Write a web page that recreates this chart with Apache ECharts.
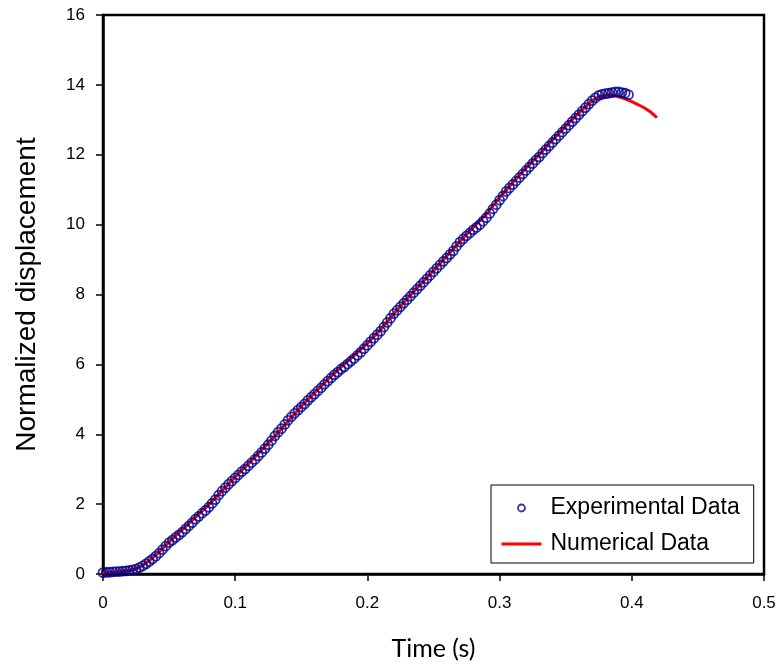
<!DOCTYPE html>
<html>
<head>
<meta charset="utf-8">
<script src="https://cdn.jsdelivr.net/npm/echarts@6/dist/echarts.min.js"></script>
<style>html,body{margin:0;padding:0;background:#fff}#c{width:780px;height:666px}</style>
</head>
<body>
<div id="c"></div>
<script>
// Experimental data [time (s), normalized displacement]
const expData = [
[0,0.04],[0.0025,0.05],[0.005,0.05],[0.0075,0.06],[0.01,0.07],[0.0125,0.07],[0.015,0.08],[0.0175,0.09],
[0.02,0.1],[0.0225,0.12],[0.025,0.14],[0.0275,0.18],[0.03,0.23],[0.0325,0.29],[0.035,0.36],[0.0375,0.43],
[0.04,0.51],[0.0425,0.6],[0.045,0.7],[0.0475,0.8],[0.05,0.9],[0.0525,0.97],[0.055,1.05],[0.0575,1.12],
[0.06,1.2],[0.0625,1.29],[0.065,1.38],[0.0675,1.47],[0.07,1.57],[0.0725,1.65],[0.075,1.74],[0.0775,1.82],
[0.08,1.91],[0.0825,2.02],[0.085,2.13],[0.0875,2.26],[0.09,2.37],[0.0925,2.47],[0.095,2.57],[0.0975,2.66],
[0.1,2.75],[0.1025,2.84],[0.105,2.93],[0.1075,3.01],[0.11,3.1],[0.1125,3.19],[0.115,3.28],[0.1175,3.38],
[0.12,3.48],[0.1225,3.59],[0.125,3.7],[0.1275,3.82],[0.13,3.95],[0.1325,4.06],[0.135,4.16],[0.1375,4.28],
[0.14,4.4],[0.1425,4.5],[0.145,4.6],[0.1475,4.69],[0.15,4.78],[0.1525,4.87],[0.155,4.97],[0.1575,5.06],
[0.16,5.15],[0.1625,5.24],[0.165,5.33],[0.1675,5.43],[0.17,5.52],[0.1725,5.61],[0.175,5.7],[0.1775,5.78],
[0.18,5.86],[0.1825,5.93],[0.185,6.01],[0.1875,6.09],[0.19,6.17],[0.1925,6.26],[0.195,6.35],[0.1975,6.45],
[0.2,6.55],[0.2025,6.65],[0.205,6.75],[0.2075,6.85],[0.21,6.95],[0.2125,7.07],[0.215,7.2],[0.2175,7.32],
[0.22,7.45],[0.2225,7.55],[0.225,7.65],[0.2275,7.75],[0.23,7.85],[0.2325,7.95],[0.235,8.05],[0.2375,8.15],
[0.24,8.25],[0.2425,8.35],[0.245,8.45],[0.2475,8.55],[0.25,8.65],[0.2525,8.75],[0.255,8.85],[0.2575,8.95],
[0.26,9.05],[0.2625,9.15],[0.265,9.25],[0.2675,9.38],[0.27,9.5],[0.2725,9.59],[0.275,9.68],[0.2775,9.76],
[0.28,9.85],[0.2825,9.92],[0.285,10.0],[0.2875,10.1],[0.29,10.2],[0.2925,10.32],[0.295,10.45],[0.2975,10.57],
[0.3,10.7],[0.3025,10.82],[0.305,10.95],[0.3075,11.05],[0.31,11.15],[0.3125,11.25],[0.315,11.35],[0.3175,11.45],
[0.32,11.55],[0.3225,11.65],[0.325,11.75],[0.3275,11.85],[0.33,11.94],[0.3325,12.05],[0.335,12.15],[0.3375,12.25],
[0.34,12.35],[0.3425,12.45],[0.345,12.55],[0.3475,12.65],[0.35,12.75],[0.3525,12.85],[0.355,12.95],[0.3575,13.05],
[0.36,13.15],[0.3625,13.25],[0.365,13.35],[0.3675,13.45],[0.37,13.55],[0.3725,13.63],[0.375,13.7],[0.3775,13.73],
[0.38,13.75],[0.3825,13.76],[0.385,13.78],[0.3875,13.8],[0.39,13.8],[0.3925,13.78],[0.395,13.76],[0.3975,13.72]
];

// Numerical data [time (s), normalized displacement]
const numData = [
[0,0.03],[0.01,0.06],[0.02,0.1],[0.025,0.15],[0.03,0.25],[0.035,0.38],[0.04,0.54],[0.05,0.92],
[0.06,1.27],[0.07,1.63],[0.08,1.98],[0.09,2.38],[0.1,2.78],[0.11,3.15],[0.12,3.55],[0.13,3.95],
[0.14,4.38],[0.15,4.8],[0.16,5.18],[0.17,5.56],[0.18,5.92],[0.19,6.25],[0.2,6.6],[0.21,7.0],
[0.22,7.45],[0.23,7.88],[0.24,8.28],[0.25,8.68],[0.26,9.1],[0.27,9.52],[0.28,9.92],[0.29,10.3],
[0.3,10.78],[0.31,11.2],[0.32,11.62],[0.33,12.0],[0.34,12.42],[0.35,12.82],[0.36,13.2],[0.37,13.55],
[0.375,13.66],[0.383,13.72],[0.39,13.66],[0.395,13.6],[0.4,13.52],[0.405,13.43],[0.41,13.33],[0.415,13.2],[0.419,13.06]
];

const seriesNames = ['Experimental Data', 'Numerical Data'];
const xTicks = {min: 0, max: 0.5, step: 0.1};
const yTicks = {min: 0, max: 16, step: 2};

const chart = echarts.init(document.getElementById('c'), null, {renderer: 'canvas'});
const font = '"Liberation Sans", Arial, sans-serif';
const navy = '#00008B';
chart.setOption({
  backgroundColor: '#ffffff',
  animation: false,
  grid: {left: 103, top: 15, right: 16, bottom: 91, show: true, borderColor: '#000', borderWidth: 2.5, backgroundColor: 'transparent'},
  xAxis: {
    type: 'value', min: xTicks.min, max: xTicks.max, interval: xTicks.step,
    name: 'Time (s)', nameLocation: 'middle', nameGap: 62,
    nameTextStyle: {fontFamily: 'Lato, "Open Sans", sans-serif', fontSize: 25, color: '#000'},
    axisLine: {show: true, onZero: false, lineStyle: {color: '#000', width: 2.5}},
    axisTick: {show: true, inside: false, length: 7, lineStyle: {color: '#000', width: 1.5}},
    axisLabel: {fontFamily: font, fontSize: 17, color: '#000', margin: 21,
      formatter: v => (v === 0 ? '0' : String(Math.round(v * 10) / 10))},
    splitLine: {show: false}
  },
  yAxis: {
    type: 'value', min: yTicks.min, max: yTicks.max, interval: yTicks.step,
    name: 'Normalized displacement', nameLocation: 'middle', nameGap: 62,
    nameTextStyle: {fontFamily: font, fontSize: 28, color: '#000'},
    axisLine: {show: true, onZero: false, lineStyle: {color: '#000', width: 2.5}},
    axisTick: {show: true, inside: false, length: 7, lineStyle: {color: '#000', width: 1.5}},
    axisLabel: {fontFamily: font, fontSize: 17, color: '#000', margin: 18},
    splitLine: {show: false}
  },
  legend: {
    left: 491, top: 485, orient: 'vertical',
    backgroundColor: '#fff', borderColor: '#000', borderWidth: 1,
    padding: [10, 14, 6, 9], itemGap: 10, itemWidth: 40, itemHeight: 7,
    textStyle: {fontFamily: font, fontSize: 23, color: '#000', lineHeight: 26, padding: [0, 0, 0, 4]},
    data: [
      {name: seriesNames[0], icon: 'circle', itemStyle: {color: 'transparent', borderColor: navy, borderWidth: 1.8}},
      {name: seriesNames[1], itemStyle: {opacity: 0}, lineStyle: {color: '#FF0000', width: 3}}
    ]
  },
  series: [
    {
      name: seriesNames[1], type: 'line', data: numData, showSymbol: false, symbol: 'none',
      lineStyle: {color: '#FF0000', width: 3}, itemStyle: {color: '#FF0000'}, z: 2
    },
    {
      name: seriesNames[0], type: 'scatter', data: expData, symbol: 'circle', symbolSize: 9,
      itemStyle: {color: 'transparent', borderColor: navy, borderWidth: 1.8}, z: 3
    }
  ]
});
</script>
</body>
</html>
